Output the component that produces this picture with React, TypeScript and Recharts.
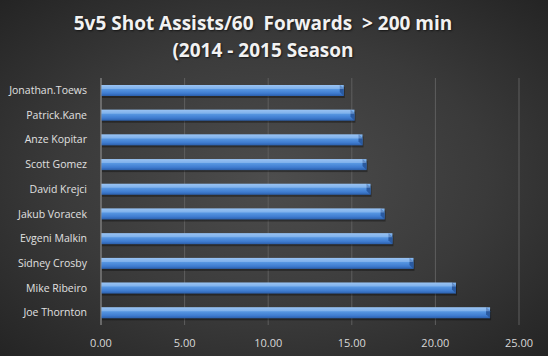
import React from "react";
import { BarChart, Bar, XAxis, YAxis, CartesianGrid } from "recharts";

const players = [
  "Jonathan.Toews",
  "Patrick.Kane",
  "Anze Kopitar",
  "Scott Gomez",
  "David Krejci",
  "Jakub Voracek",
  "Evgeni Malkin",
  "Sidney Crosby",
  "Mike Ribeiro",
  "Joe Thornton",
];
const assists60 = [14.52, 15.16, 15.64, 15.88, 16.12, 16.96, 17.43, 18.69, 21.23, 23.27];
const xTicks = [0, 5, 10, 15, 20, 25];

const data = players.map((name, i) => ({ name, value: assists60[i] }));

const BarShape = (props: any) => {
  const { x, y, width, height } = props;
  if (!width || width <= 0) return null;
  const b = 4;
  return (
    <g>
      <rect x={x + 1} y={y + 2} width={width} height={height} fill="rgba(0,0,0,0.35)" />
      <rect x={x} y={y} width={width} height={height} fill="url(#barGrad)" />
      <path
        d={`M${x + width - b},${y} L${x + width},${y + b} L${x + width},${y + height} L${x + width - b},${y + height - b} Z`}
        fill="#2a5aa0"
      />
      <path
        d={`M${x},${y} L${x + width - b},${y} L${x + width},${y + b} L${x},${y + b} Z`}
        fill="rgba(170,205,245,0.45)"
      />
    </g>
  );
};

export default function App() {
  return (
    <div
      style={{
        position: "absolute",
        left: 0,
        top: 0,
        width: 548,
        height: 356,
        background: "radial-gradient(ellipse at 50% 50%, #4d4d4d 0%, #3a3a3a 55%, #242424 100%)",
        fontFamily: "'Open Sans', sans-serif",
      }}
    >
      <svg width={0} height={0} style={{ position: "absolute" }}>
        <defs>
          <linearGradient id="barGrad" x1="0" y1="0" x2="0" y2="1">
            <stop offset="0%" stopColor="#8cbcf2" />
            <stop offset="35%" stopColor="#5a9ae4" />
            <stop offset="75%" stopColor="#3f7cd0" />
            <stop offset="100%" stopColor="#2b5fab" />
          </linearGradient>
        </defs>
      </svg>
      <div
        style={{
          position: "absolute",
          top: 10,
          left: -11,
          width: 548,
          textAlign: "center",
          color: "#f2f2f2",
          fontWeight: 700,
          fontSize: 19,
          lineHeight: "27px",
          whiteSpace: "pre",
          textShadow: "1px 1px 2px rgba(0,0,0,0.6)",
        }}
      >
        {"5v5 Shot Assists/60  Forwards  > 200 min"}
        <br />
        {"(2014 - 2015 Season"}
      </div>
      <BarChart
        width={548}
        height={356}
        data={data}
        layout="vertical"
        margin={{ top: 78, right: 29, bottom: 1, left: 0 }}
        barSize={11}
        style={{ position: "absolute", left: 0, top: 0 }}
      >
        <CartesianGrid horizontal={false} stroke="#5e5e5e" strokeWidth={1} />
        <XAxis
          type="number"
          domain={[0, 25]}
          ticks={xTicks}
          tickFormatter={(v: number) => v.toFixed(2)}
          axisLine={false}
          tickLine={false}
          height={30}
          tick={{ fill: "#d8d8d8", fontSize: 11, fontFamily: "'Open Sans', sans-serif" }}
          tickMargin={8}
        />
        <YAxis
          type="category"
          dataKey="name"
          width={101}
          axisLine={{ stroke: "#8a8a8a" }}
          tickLine={false}
          tick={{ fill: "#e0e0e0", fontSize: 10.5, fontFamily: "'Open Sans', sans-serif" }}
          tickMargin={8}
        />
        <Bar dataKey="value" shape={<BarShape />} isAnimationActive={false} />
      </BarChart>
    </div>
  );
}
